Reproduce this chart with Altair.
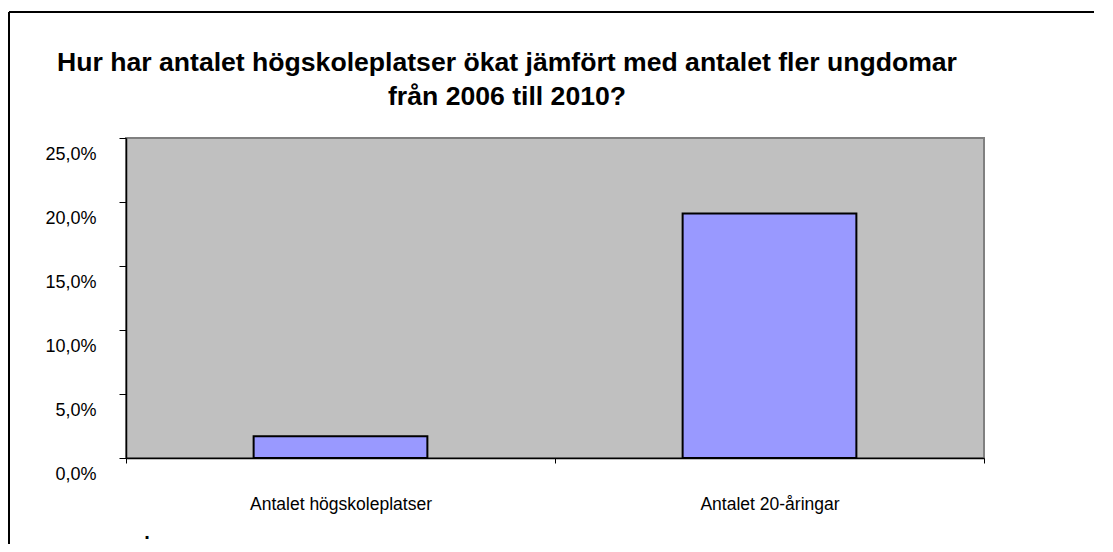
import altair as alt
import pandas as pd

categories = ["Antalet högskoleplatser", "Antalet 20-åringar"]
values = [0.017, 0.191]
y_ticks = [0.0, 0.05, 0.10, 0.15, 0.20, 0.25]
title_lines = [
    "Hur har antalet högskoleplatser ökat jämfört med antalet fler ungdomar",
    "från 2006 till 2010?",
]

df = pd.DataFrame({"kategori": categories, "andel": values})

FONT = "Liberation Sans"
W, H = 858, 320
PAD = {"left": 118, "top": 130, "right": 110, "bottom": 86}

base = alt.Chart(df)

bars = base.mark_bar(
    width=alt.RelativeBandSize(0.405),
    fill="#9999FF",
    stroke="#000000",
    strokeWidth=2,
).encode(
    x=alt.X(
        "kategori:N",
        sort=categories,
        title=None,
        scale=alt.Scale(paddingInner=0, paddingOuter=0),
        axis=alt.Axis(
            labelAngle=0,
            labelFont=FONT,
            labelFontSize=17.5,
            labelColor="#000000",
            labelPadding=32,
            labelLimit=0,
            tickBand="extent",
            tickSize=5,
            tickColor="#000000",
            domainColor="#000000",
            domainWidth=1.5,
            labelOverlap=False,
        ),
    ),
    y=alt.Y(
        "andel:Q",
        title=None,
        scale=alt.Scale(domain=[0, 0.25], nice=False),
        axis=alt.Axis(
            values=y_ticks,
            labelExpr="replace(format(datum.value, '.1%'), '.', ',')",
            labelFont=FONT,
            labelFontSize=18,
            labelColor="#000000",
            labelOffset=16,
            labelPadding=23,
            labelFlush=False,
            labelOverlap=False,
            tickSize=7,
            tickColor="#000000",
            domainColor="#000000",
            domainWidth=1.5,
            grid=False,
        ),
    ),
)

frame_top = base.mark_rule(color="#000000", strokeWidth=2).encode(
    x=alt.value(-117), x2=alt.value(W + PAD["right"]), y=alt.value(-126)
)
frame_left = base.mark_rule(color="#000000", strokeWidth=2).encode(
    x=alt.value(-117), y=alt.value(-126), y2=alt.value(H + PAD["bottom"])
)
title = alt.Chart(pd.DataFrame({"t": [0]})).mark_text(
    text=title_lines,
    font=FONT,
    fontSize=26.6,
    fontWeight="bold",
    color="#000000",
    align="center",
    baseline="alphabetic",
    lineHeight=34,
).encode(x=alt.value(381), y=alt.value(-67))
dot = alt.Chart(pd.DataFrame({"t": [0]})).mark_text(
    text=".", font=FONT, fontSize=20, fontWeight="bold", color="#000000", baseline="bottom"
).encode(x=alt.value(21), y=alt.value(405))

chart = alt.layer(bars, frame_top, frame_left, title, dot).properties(
    width=W,
    height=H,
    padding=PAD,
    autosize=alt.AutoSizeParams(type="none"),
    background="#FFFFFF",
).configure_view(
    fill="#C0C0C0",
    stroke="#808080",
    strokeWidth=2,
)

chart.save("out.html", embed_options={"renderer": "svg", "actions": False})
